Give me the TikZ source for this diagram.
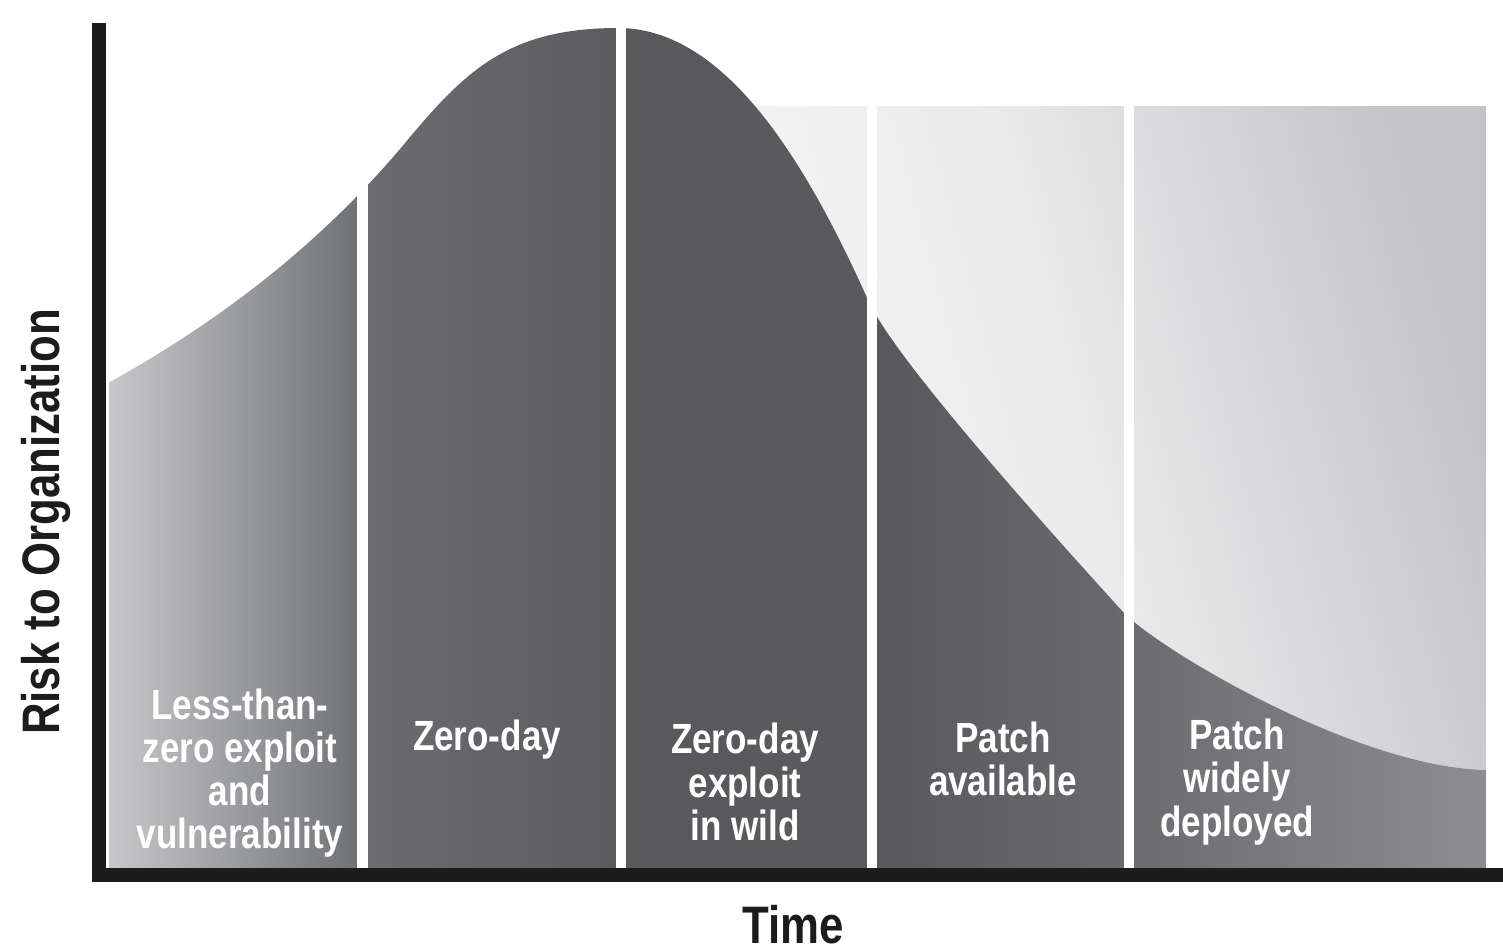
\documentclass[tikz,border=0pt]{standalone}
\usepackage{fontspec}
\setmainfont{Liberation Sans}[FakeStretch=0.83]
\definecolor{axisblack}{HTML}{1C1C1C}
\definecolor{boxl}{HTML}{F8F8F8}
\definecolor{boxm}{HTML}{EAEAEB}
\definecolor{boxr}{HTML}{C4C4C8}
\definecolor{c1l}{HTML}{C8C8CA}
\definecolor{c1r}{HTML}{707276}
\definecolor{c2l}{HTML}{6C6C70}
\definecolor{c2r}{HTML}{5C5C60}
\definecolor{c3l}{HTML}{59595C}
\definecolor{c3r}{HTML}{5A5A5E}
\definecolor{c4l}{HTML}{59595D}
\definecolor{c4r}{HTML}{6A6A6E}
\definecolor{c5l}{HTML}{6C6C70}
\definecolor{c5r}{HTML}{8E8E92}
\tikzset{
	phase/.style={text=white, align=center, font=\bfseries\fontsize{12}{12.3}\selectfont},
	axislabel/.style={text=axisblack, inner sep=1pt, font=\bfseries\fontsize{15}{18}\selectfont}
}
\begin{document}
\begin{tikzpicture}[x=0.01cm, y=0.01cm, line join=round, line cap=round]
	\def\xmin{92} \def\xmax{1503}
	\def\ymin{-14} \def\ymax{845}
	\useasboundingbox (0,-82) rectangle (1503,868);
	% pale backdrop behind the falling side
	\shade[left color=boxl, right color=boxr, middle color=boxm, shading angle=105] (700,0) rectangle (1486,762);
	% area under the risk curve, one shading per phase
	\begin{scope}
		\clip (108,0) -- (108,485) .. controls (208,540) and (315,617) .. (405,725)
			.. controls (465,797) and (508,840) .. (618,840)
			.. controls (720,840) and (800,720) .. (868,568)
			.. controls (893,511) and (1044,343) .. (1124,255)
			.. controls (1164,215) and (1360,100) .. (1486,98) -- (1486,0) -- cycle;
		\shade[left color=c1l, right color=c1r] (108,0) rectangle (357,860);
		\shade[left color=c2l, right color=c2r] (368,0) rectangle (616,860);
		\shade[left color=c3l, right color=c3r] (626,0) rectangle (867,860);
		\shade[left color=c4l, right color=c4r] (877,0) rectangle (1124,860);
		\shade[left color=c5l, right color=c5r] (1134,0) rectangle (1486,860);
	\end{scope}
	\foreach \a/\b in {106/109, 357/368, 616/626, 867/877, 1124/1134}
		\fill[white] (\a,0) rectangle (\b,860);
	% axes
	\fill[axisblack] (\xmin,\ymin) rectangle (\xmax,0);
	\fill[axisblack] (\xmin,\ymin) rectangle (106,\ymax);
	\node[axislabel] (time) at (793,-57) {Time};
	\node[axislabel, rotate=90] (risk) at (46,346) {Risk to Organization};
	% phase labels
	\node[phase] (lessthan) at (240,95) {Less-than-\\zero exploit\\and\\vulnerability};
	\node[phase] (zeroday) at (487,128) {Zero-day};
	\node[phase] (inwild) at (745,86) {Zero-day\\exploit\\in wild};
	\node[phase] (available) at (1003,109) {Patch\\available};
	\node[phase] (deployed) at (1237,86) {Patch\\widely\\deployed};
\end{tikzpicture}
\end{document}
